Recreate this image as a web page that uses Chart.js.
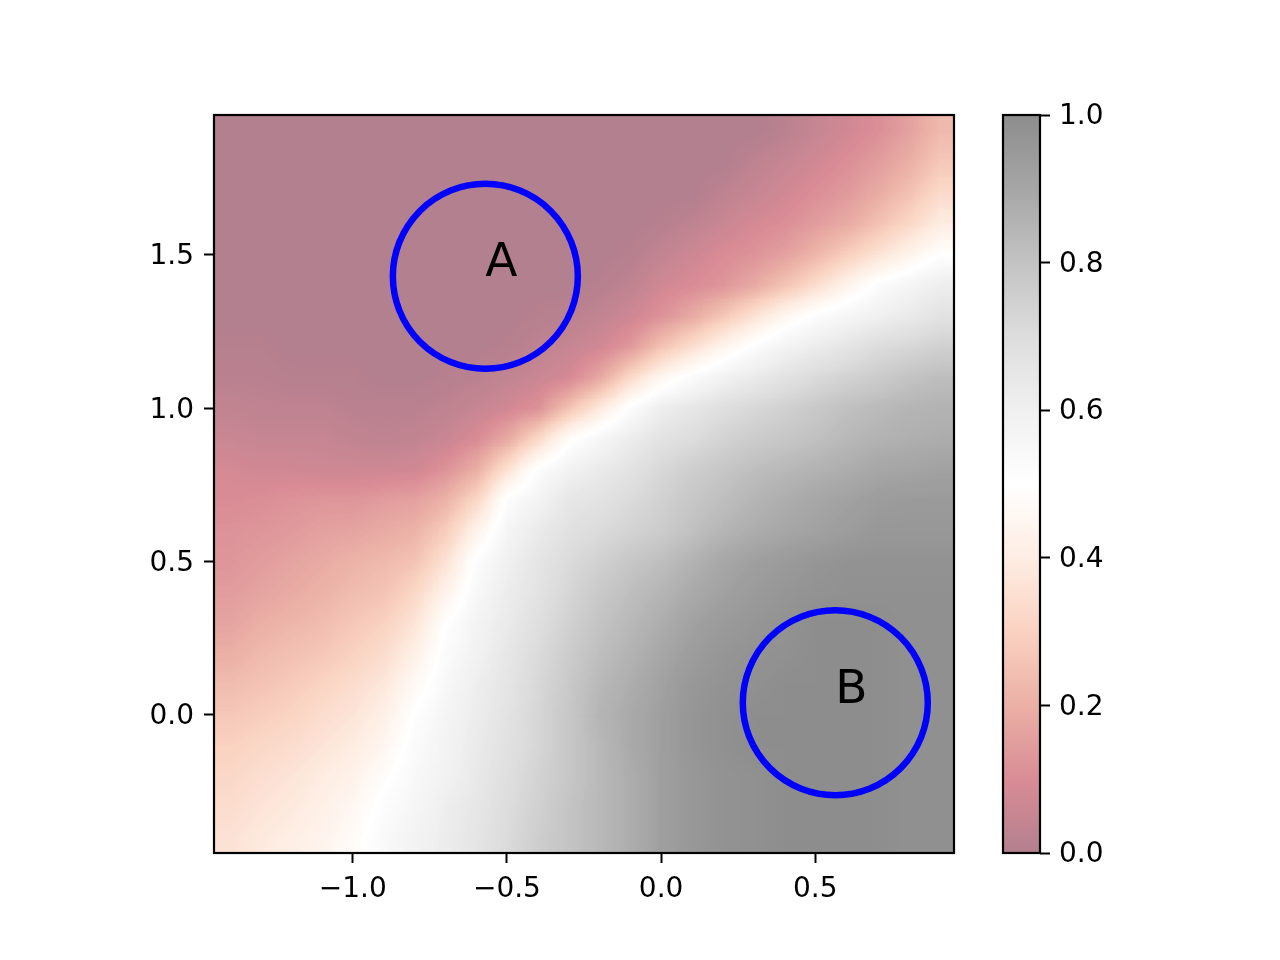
<!DOCTYPE html>
<html>
<head>
<meta charset="utf-8">
<title>Class probability map</title>
<script src="https://cdn.jsdelivr.net/npm/chart.js@4.4.1/dist/chart.umd.min.js"></script>
<style>
  body { margin: 0; background: #fff; }
  #wrap { position: relative; width: 1280px; height: 960px; }
  #chart { position: absolute; left: 0; top: 0; }
  #colorbar { position: absolute; left: 990px; top: 0; }
</style>
</head>
<body>
<div id="wrap">
  <canvas id="chart" width="1280" height="960"></canvas>
  <canvas id="colorbar" width="290" height="960"></canvas>
</div>
<script>
// grid cell centres (data units)
const xCenters = [-1.4, -1.3, -1.2, -1.1, -1.0, -0.9, -0.8, -0.7, -0.6, -0.5, -0.4, -0.3,
                  -0.2, -0.1, 0.0, 0.1, 0.2, 0.3, 0.4, 0.5, 0.6, 0.7, 0.8, 0.9];
const yCenters = [1.9, 1.8, 1.7, 1.6, 1.5, 1.4, 1.3, 1.2, 1.1, 1.0, 0.9, 0.8,
                  0.7, 0.6, 0.5, 0.4, 0.3, 0.2, 0.1, 0.0, -0.1, -0.2, -0.3, -0.4];

// probability, one row per y centre (top row first)
const probRows = [
  [0, 0, 0, 0, 0, 0, 0, 0, 0, 0, 0, 0, 0, 0, 0, 0, 0, 0, .02, .05, .08, .11, .16, .23],
  [0, 0, 0, 0, 0, 0, 0, 0, 0, 0, 0, 0, 0, 0, 0, 0, 0, .03, .05, .08, .11, .15, .20, .27],
  [0, 0, 0, 0, 0, 0, 0, 0, 0, 0, 0, 0, 0, 0, 0, 0, .03, .05, .08, .11, .14, .19, .25, .33],
  [0, 0, 0, 0, 0, 0, 0, 0, 0, 0, 0, 0, 0, 0, .01, .03, .06, .09, .11, .15, .19, .25, .32, .40],
  [0, 0, 0, 0, 0, 0, 0, 0, 0, 0, 0, 0, 0, .01, .04, .07, .10, .12, .16, .22, .29, .36, .43, .50],
  [0, 0, 0, 0, 0, 0, 0, 0, 0, 0, 0, 0, .01, .03, .08, .10, .13, .19, .26, .34, .43, .52, .57, .61],
  [0, 0, 0, 0, 0, 0, 0, 0, 0, 0, .01, .02, .04, .07, .12, .19, .27, .36, .45, .52, .56, .60, .63, .67],
  [.01, .01, 0, 0, 0, 0, 0, 0, 0, .01, .03, .05, .08, .14, .26, .35, .44, .52, .58, .62, .66, .70, .72, .75],
  [.02, .02, .01, .01, .01, 0, 0, .01, .02, .04, .06, .09, .18, .33, .45, .53, .59, .63, .67, .71, .74, .77, .80, .82],
  [.04, .03, .03, .03, .02, .02, .02, .03, .05, .08, .12, .26, .39, .52, .61, .65, .69, .72, .75, .78, .81, .83, .85, .86],
  [.06, .05, .05, .05, .04, .03, .04, .06, .10, .19, .33, .49, .56, .62, .67, .70, .74, .77, .79, .81, .84, .86, .87, .88],
  [.09, .08, .08, .07, .07, .07, .08, .12, .20, .36, .52, .59, .63, .67, .72, .76, .79, .82, .84, .86, .88, .90, .91, .92],
  [.10, .11, .12, .13, .13, .15, .16, .21, .32, .52, .58, .65, .67, .71, .75, .79, .82, .85, .88, .90, .92, .94, .95, .95],
  [.12, .13, .14, .16, .17, .19, .21, .29, .43, .57, .63, .68, .71, .74, .77, .81, .85, .88, .90, .92, .94, .96, .96, .96],
  [.13, .15, .17, .19, .21, .23, .26, .36, .52, .60, .66, .71, .75, .79, .82, .86, .90, .93, .95, .97, .98, .98, .98, .98],
  [.15, .17, .19, .21, .24, .26, .32, .43, .55, .62, .67, .73, .78, .82, .85, .89, .92, .95, .97, .98, .99, .99, .99, .99],
  [.17, .20, .22, .24, .27, .30, .37, .50, .58, .63, .69, .75, .80, .84, .88, .92, .95, .97, .98, 1, 1, 1, .99, .99],
  [.20, .23, .25, .27, .30, .34, .42, .53, .59, .65, .71, .77, .82, .86, .90, .94, .97, .98, .99, 1, 1, 1, .99, .99],
  [.24, .26, .28, .31, .34, .38, .47, .55, .61, .66, .72, .78, .84, .88, .92, .96, .98, .99, 1, 1, 1, 1, .99, .99],
  [.27, .29, .31, .34, .37, .42, .51, .57, .62, .67, .73, .79, .85, .89, .93, .97, .99, 1, 1, 1, 1, 1, .99, .99],
  [.30, .32, .34, .37, .40, .45, .53, .58, .63, .68, .73, .79, .84, .89, .93, .97, .99, 1, 1, 1, 1, 1, .99, .99],
  [.32, .35, .37, .40, .43, .49, .55, .59, .64, .69, .74, .79, .84, .88, .93, .96, .98, .99, 1, 1, 1, 1, .99, .99],
  [.34, .37, .39, .42, .46, .52, .56, .61, .65, .70, .75, .80, .84, .88, .93, .96, .98, .99, 1, 1, 1, 1, .99, .99],
  [.36, .39, .41, .44, .48, .54, .58, .62, .66, .71, .76, .80, .84, .88, .93, .96, .98, .99, 1, 1, 1, 1, .99, .99],
];

const xTicks = [-1.0, -0.5, 0.0, 0.5];
const yTicks = [0.0, 0.5, 1.0, 1.5];
const colorbarTicks = [0.0, 0.2, 0.4, 0.6, 0.8, 1.0];

// marked regions
const circleLabels = ["A", "B"];
const circleX = [-0.57, 0.565];
const circleY = [1.43, 0.04];
const circleRadius = [0.3, 0.3];

const halfCell = 0.05;

// RdGy colormap, shown at alpha 0.5 over white
const rdgyStops = [
  [103, 0, 31], [178, 24, 43], [214, 96, 77], [244, 165, 130], [253, 219, 199],
  [255, 255, 255], [224, 224, 224], [186, 186, 186], [135, 135, 135], [77, 77, 77], [26, 26, 26],
];

function blendRGB(c) {
  return c.map((v) => Math.round(v * 0.5 + 127.5));
}

function blend(c) {
  return "rgb(" + blendRGB(c).join(",") + ")";
}

function rdgy(v) {
  const t = Math.min(Math.max(v, 0), 1) * 10;
  const i = Math.min(Math.floor(t), 9);
  const f = t - i;
  const a = rdgyStops[i];
  const b = rdgyStops[i + 1];
  return blendRGB(a.map((c, k) => c + (b[k] - c) * f));
}

const fmt = (v) => v.toFixed(1).replace("-", "\u2212");

Chart.defaults.font.family = "'DejaVu Sans'";
Chart.defaults.font.size = 28;
Chart.defaults.color = "#000";

const tickGrid = {
  display: true,
  drawOnChartArea: false,
  drawTicks: true,
  tickLength: 10,
  tickWidth: 2,
  tickColor: "#000",
};

// values go into a small grey image (one pixel per cell), get stretched over
// the cell extent taken from the scales, then each pixel is colour-mapped
const heatmapPlugin = {
  id: "heatmap",
  beforeDatasetsDraw(chart) {
    const { ctx, chartArea, scales } = chart;
    const xs = scales.x;
    const ys = scales.y;
    const nx = xCenters.length;
    const ny = yCenters.length;

    const src = document.createElement("canvas");
    src.width = nx;
    src.height = ny;
    const sctx = src.getContext("2d");
    const sImg = sctx.createImageData(nx, ny);
    probRows.forEach((row, j) => {
      row.forEach((p, i) => {
        const k = (j * nx + i) * 4;
        const g = Math.round(p * 255);
        sImg.data[k] = g;
        sImg.data[k + 1] = g;
        sImg.data[k + 2] = g;
        sImg.data[k + 3] = 255;
      });
    });
    sctx.putImageData(sImg, 0, 0);

    const left = Math.min(xs.getPixelForValue(xCenters[0] - halfCell), chartArea.left);
    const right = Math.max(xs.getPixelForValue(xCenters[nx - 1] + halfCell), chartArea.right);
    const top = Math.min(ys.getPixelForValue(yCenters[0] + halfCell), chartArea.top);
    const bottom = Math.max(ys.getPixelForValue(yCenters[ny - 1] - halfCell), chartArea.bottom);
    const w = Math.round(right - left);
    const h = Math.round(bottom - top);

    const big = document.createElement("canvas");
    big.width = w;
    big.height = h;
    const bctx = big.getContext("2d");
    bctx.imageSmoothingEnabled = true;
    bctx.imageSmoothingQuality = "low";
    bctx.drawImage(src, 0, 0, w, h);
    const bImg = bctx.getImageData(0, 0, w, h);
    for (let k = 0; k < bImg.data.length; k += 4) {
      const c = rdgy(bImg.data[k] / 255);
      bImg.data[k] = c[0];
      bImg.data[k + 1] = c[1];
      bImg.data[k + 2] = c[2];
      bImg.data[k + 3] = 255;
    }
    bctx.putImageData(bImg, 0, 0);

    ctx.save();
    ctx.drawImage(big, Math.round(left), Math.round(top));
    ctx.restore();
  },
};

const labelPlugin = {
  id: "circleLabels",
  afterDatasetsDraw(chart) {
    const { ctx, scales } = chart;
    ctx.save();
    ctx.font = "47px 'DejaVu Sans'";
    ctx.fillStyle = "#000";
    ctx.textAlign = "left";
    ctx.textBaseline = "alphabetic";
    circleLabels.forEach((label, i) => {
      ctx.fillText(label, scales.x.getPixelForValue(circleX[i]), scales.y.getPixelForValue(circleY[i]));
    });
    ctx.restore();
  },
};

// black box round the plotting area
const framePlugin = {
  id: "frame",
  afterDraw(chart) {
    const { ctx, chartArea } = chart;
    ctx.save();
    ctx.strokeStyle = "#000";
    ctx.lineWidth = 2.2;
    ctx.strokeRect(chartArea.left, chartArea.top, chartArea.right - chartArea.left, chartArea.bottom - chartArea.top);
    ctx.restore();
  },
};

new Chart(document.getElementById("chart"), {
  type: "scatter",
  data: {
    datasets: [
      {
        data: circleX.map((x, i) => ({ x: x, y: circleY[i] })),
        pointRadius: (ctx) => {
          const xs = ctx.chart.scales.x;
          const i = ctx.dataIndex;
          return xs.getPixelForValue(circleX[i] + circleRadius[i]) - xs.getPixelForValue(circleX[i]);
        },
        pointBackgroundColor: "rgba(0,0,0,0)",
        pointBorderColor: "#0000ff",
        borderColor: "#0000ff",
        borderWidth: 6.5,
        pointBorderWidth: 6.5,
      },
    ],
  },
  options: {
    responsive: false,
    animation: false,
    events: [],
    devicePixelRatio: 1,
    layout: { padding: { left: 0, top: 115, right: 326, bottom: 0 } },
    elements: { point: { borderWidth: 6.5 } },
    plugins: { legend: { display: false }, tooltip: { enabled: false } },
    scales: {
      x: {
        type: "linear",
        min: -1.45,
        max: 0.95,
        afterBuildTicks: (scale) => {
          scale.ticks = xTicks.map((value) => ({ value }));
        },
        afterFit: (scale) => {
          scale.height = 107;
        },
        grid: tickGrid,
        border: { display: false },
        ticks: { padding: 10, maxRotation: 0, callback: (v) => fmt(v) },
      },
      y: {
        type: "linear",
        min: -0.45,
        max: 1.956,
        afterBuildTicks: (scale) => {
          scale.ticks = yTicks.map((value) => ({ value }));
        },
        afterFit: (scale) => {
          scale.width = 214;
        },
        grid: tickGrid,
        border: { display: false },
        ticks: { padding: 10, labelOffset: 2, callback: (v) => fmt(v) },
      },
    },
  },
  plugins: [heatmapPlugin, labelPlugin, framePlugin],
});

const colorbarPlugin = {
  id: "colorbarFill",
  beforeDatasetsDraw(chart) {
    const { ctx, chartArea, scales } = chart;
    const ys = scales.y;
    const g = ctx.createLinearGradient(0, ys.getPixelForValue(0), 0, ys.getPixelForValue(1));
    rdgyStops.forEach((c, k) => g.addColorStop(k / (rdgyStops.length - 1), blend(c)));
    ctx.save();
    ctx.fillStyle = g;
    ctx.fillRect(chartArea.left, chartArea.top, chartArea.right - chartArea.left, chartArea.bottom - chartArea.top);
    ctx.restore();
  },
};

new Chart(document.getElementById("colorbar"), {
  type: "scatter",
  data: { datasets: [] },
  options: {
    responsive: false,
    animation: false,
    events: [],
    devicePixelRatio: 1,
    layout: { padding: { left: 13, top: 115, right: 0, bottom: 107 } },
    plugins: { legend: { display: false }, tooltip: { enabled: false } },
    scales: {
      x: { type: "linear", display: false, min: 0, max: 1 },
      y: {
        type: "linear",
        position: "right",
        min: 0,
        max: 1,
        afterBuildTicks: (scale) => {
          scale.ticks = colorbarTicks.map((value) => ({ value }));
        },
        afterFit: (scale) => {
          scale.width = 240;
        },
        grid: tickGrid,
        border: { display: false },
        ticks: { padding: 9, labelOffset: 2, callback: (v) => fmt(v) },
      },
    },
  },
  plugins: [colorbarPlugin, framePlugin],
});
</script>
</body>
</html>
